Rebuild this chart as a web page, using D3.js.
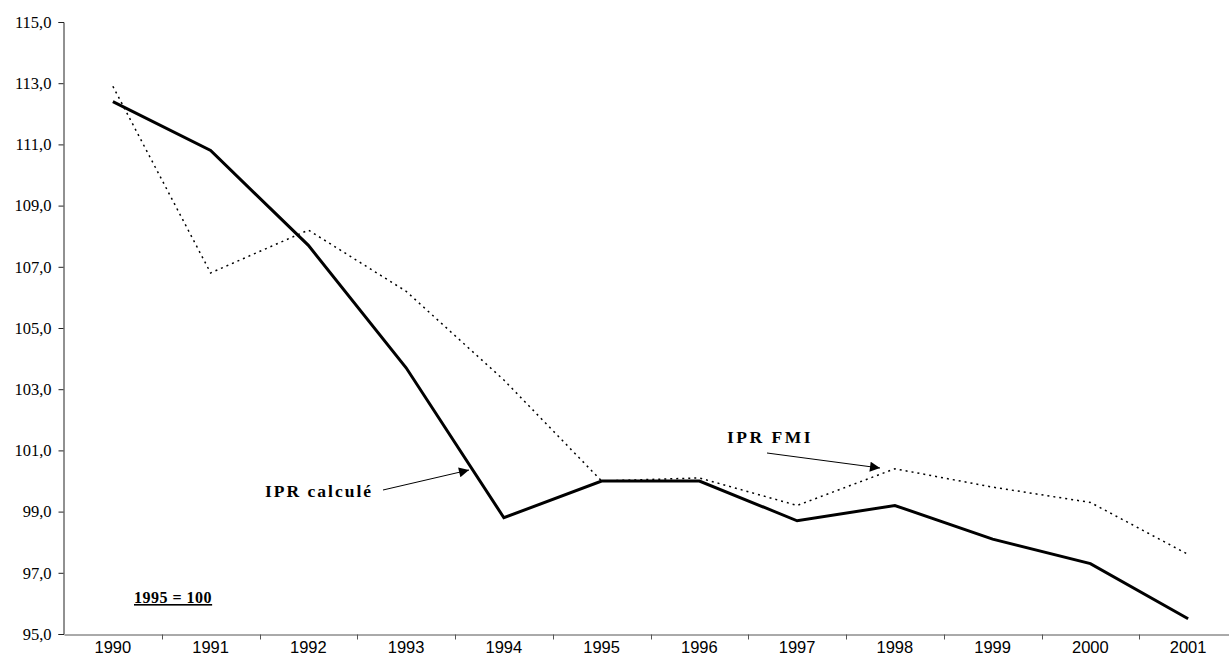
<!DOCTYPE html>
<html><head><meta charset="utf-8">
<script src="https://cdn.jsdelivr.net/npm/d3@7"></script>
<style>body{margin:0;background:#fff}svg{display:block}</style>
</head><body>
<svg id="c" width="1229" height="662"></svg>
<script>
const years = ["1990","1991","1992","1993","1994","1995","1996","1997","1998","1999","2000","2001"];
const iprCalcule = [112.4,110.8,107.7,103.7,98.8,100.0,100.0,98.7,99.2,98.1,97.3,95.5];
const iprFMI = [112.9,106.8,108.2,106.2,103.3,100.0,100.1,99.2,100.4,99.8,99.3,97.6];
const yTicks = [95,97,99,101,103,105,107,109,111,113,115];
const baseLabel = "1995 = 100";

const svg = d3.select("#c");
const x = d3.scaleBand().domain(years).range([64, 1237]);
const y = d3.scaleLinear().domain([95, 115]).range([634, 22]);
const fmt = v => v.toFixed(1).replace(".", ",");
const serif = "'Liberation Serif', 'Times New Roman', serif";

// y axis
const ya = svg.append("g").attr("transform","translate(63.5,0)")
  .call(d3.axisLeft(y).tickValues(yTicks).tickFormat(fmt).tickSize(5).tickPadding(7));
ya.select(".domain").attr("stroke","#222");
ya.selectAll(".tick line").attr("stroke","#222");
ya.selectAll("text").attr("font-family",serif).attr("font-size","16.5px").attr("fill","#000");

// x axis
const xa = svg.append("g").attr("transform","translate(0,634.5)")
  .call(d3.axisBottom(x).tickSize(0).tickPadding(7));
xa.select(".domain").attr("stroke","#555");
xa.selectAll("text").attr("font-family","'Liberation Sans', Arial, sans-serif").attr("font-size","16.5px").attr("fill","#000");
xa.selectAll(".sep").data(years.slice(1)).enter().append("line")
  .attr("class","sep")
  .attr("x1", d => Math.round(x(d))+0.5).attr("x2", d => Math.round(x(d))+0.5)
  .attr("y1",0).attr("y2",5).attr("stroke","#555");

const line = d3.line().x((d,i) => x(years[i]) + x.bandwidth()/2).y(d => y(d));

svg.append("path").datum(iprFMI).attr("d", line)
  .attr("fill","none").attr("stroke","#000").attr("stroke-width",1.5)
  .attr("stroke-dasharray","2,4");
svg.append("path").datum(iprCalcule).attr("d", line)
  .attr("fill","none").attr("stroke","#000").attr("stroke-width",3)
  .attr("stroke-linejoin","miter");

svg.append("defs").append("marker").attr("id","ah")
  .attr("viewBox","0 0 10 10").attr("refX",10).attr("refY",5)
  .attr("markerWidth",14).attr("markerHeight",10).attr("markerUnits","userSpaceOnUse")
  .attr("orient","auto")
  .append("path").attr("d","M0,0L10,5L0,10Z").attr("fill","#000");

svg.append("text").attr("x",265).attr("y",497).text("IPR calculé")
  .attr("font-family",serif).attr("font-weight","bold").attr("font-size","17.5px")
  .attr("letter-spacing","2px").attr("fill","#000");
svg.append("line").attr("x1",383).attr("y1",490).attr("x2",469).attr("y2",470)
  .attr("stroke","#000").attr("stroke-width",1).attr("marker-end","url(#ah)");

svg.append("text").attr("x",727).attr("y",443).text("IPR FMI")
  .attr("font-family",serif).attr("font-weight","bold").attr("font-size","17.5px")
  .attr("letter-spacing","2.5px").attr("fill","#000");
svg.append("line").attr("x1",767).attr("y1",453).attr("x2",880).attr("y2",468)
  .attr("stroke","#000").attr("stroke-width",1).attr("marker-end","url(#ah)");

svg.append("text").attr("x",134).attr("y",603).text(baseLabel)
  .attr("font-family",serif).attr("font-weight","bold").attr("font-size","16px")
  .attr("letter-spacing","0.5px")
  .attr("text-decoration","underline").attr("fill","#000");
</script>
</body></html>
